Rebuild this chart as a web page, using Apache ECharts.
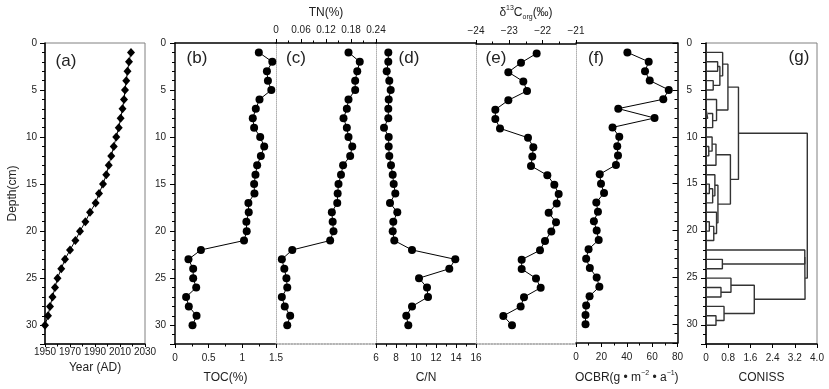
<!DOCTYPE html>
<html><head><meta charset="utf-8">
<script src="https://cdn.jsdelivr.net/npm/echarts@6/dist/echarts.min.js"></script>
<style>html,body{margin:0;padding:0;background:#fff}#c{width:829px;height:389px}</style>
</head><body><div id="c"></div>
<script>
// ---------------- DATA ----------------
const depths = [1,2,3,4,5,6,7,8,9,10,11,12,13,14,15,16,17,18,19,20,21,22,23,24,25,26,27,28,29,30];
const years = [2018.8,2017.2,2016,2015,2014,2013.2,2012,2010.5,2009,2007,2005,2003,2001,1999,1996.4,1993.2,1990.5,1986,1982.3,1978,1974.3,1970,1966,1963,1960,1958,1956,1954,1952.4,1950];
const toc = [1.245,1.445,1.365,1.38,1.43,1.255,1.2,1.155,1.175,1.265,1.325,1.275,1.22,1.195,1.175,1.18,1.09,1.095,1.06,1.065,1.025,0.385,0.2,0.27,0.27,0.315,0.165,0.205,0.32,0.26];
const tn = [0.174,0.201,0.195,0.19,0.19,0.174,0.170,0.162,0.17,0.174,0.183,0.178,0.161,0.156,0.150,0.148,0.147,0.134,0.136,0.138,0.130,0.039,0.014,0.020,0.025,0.027,0.014,0.021,0.034,0.027];
const cn = [7.23,7.23,7.07,7.33,7.47,7.27,7.23,7.23,6.8,7.27,7.27,7.33,7.5,7.67,7.77,7.93,7.4,8.13,7.73,7.67,7.83,9.6,13.93,13.33,10.3,11.1,11.2,9.6,9.03,9.23];
const d13c = [-22.18,-22.65,-23.03,-22.58,-22.47,-23.03,-23.42,-23.42,-23.28,-22.44,-22.28,-22.31,-22.35,-21.86,-21.65,-21.52,-21.58,-21.82,-21.6,-21.74,-21.93,-22.08,-22.63,-22.63,-22.2,-22.06,-22.56,-22.66,-23.18,-22.92];
const ocbr = [40.5,57.3,54.4,58.1,73.1,68.8,33.3,61.9,28.8,34.1,32.5,33.1,31.5,18.7,19.7,22.1,16,17.3,14.1,16.3,17.9,9.9,8,10.9,16.3,18.4,10.7,8,7.5,7.5];
// CONISS merges: [id, childA, childB, height]; numeric child = leaf depth
const conissMerges = [
 ['m1',2,3,0.42],['m2',4,5,0.26],['m3','m1','m2',0.5],['m4',1,'m3',0.6],
 ['m5',7,8,0.06],['m6','m5',9,0.24],['m7',6,'m6',0.38],['m8','m4','m7',0.79],
 ['m9',11,12,0.1],['m10',10,'m9',0.22],['m11','m10',13,0.36],
 ['m12',15,16,0.12],['m13','m12',17,0.24],['m14',14,'m13',0.32],
 ['m15',19,20,0.12],['m16','m15',21,0.28],['m17',18,'m16',0.38],
 ['m18','m14','m17',0.43],['m19','m11','m18',0.88],['m20','m8','m19',1.17],
 ['m21',23,24,0.59],['m22',26,27,0.54],['m23',25,'m22',0.9],
 ['m24',29,30,0.36],['m25',28,'m24',0.65],['m26','m23','m25',1.74],
 ['m27',22,'m21',3.56],['m28','m27','m26',3.57],['m29','m20','m28',3.65]
];
const yearTicks = {min:1950,max:2030,interval:20};
const tocTicks = {min:0,max:1.5,interval:0.5};
const tnTicks = {min:0,max:0.24,interval:0.06};
const cnTicks = {min:6,max:16,interval:2};
const d13cTicks = {min:-24,max:-21,interval:1};
const ocbrTicks = {min:0,max:80,interval:20};
const conissTicks = {min:0,max:4,interval:0.8};
const depthRange = {min:0,max:32,major:5,minor:1};

// ---------------- LAYOUT ----------------
const FONT = '"Liberation Sans", Arial, Helvetica, sans-serif';
const TOP = 43, H = 301;
const grids = [
 {left:45, top:TOP, width:100, height:H, show:true, borderColor:'#808080', borderWidth:1},
 {left:175, top:TOP, width:101, height:H},
 {left:276, top:TOP, width:100, height:H},
 {left:376, top:TOP, width:100, height:H},
 {left:476, top:TOP, width:100, height:H},
 {left:576, top:TOP, width:101.5, height:H},
 {left:706, top:TOP, width:111, height:H, show:true, borderColor:'#808080', borderWidth:1}
];
const xAxes = [], yAxes = [], series = [];
const addX = o => (xAxes.push(o), xAxes.length-1);
const addY = o => (yAxes.push(o), yAxes.length-1);
const nameStyle = {fontSize:12, color:'#222', fontFamily:FONT};
const labStyle = {fontSize:10, color:'#222', fontFamily:FONT};

function depthAxis(g, pos, o) {
  const base = {type:'value', gridIndex:g, position:pos, inverse:true, min:depthRange.min, max:depthRange.max, splitLine:{show:false}};
  const maj = addY(Object.assign({}, base, {interval:depthRange.major,
    axisLine:{show:true,onZero:false,lineStyle:{color:'#000',width:1.5}},
    axisTick:{show:true,inside:!!o.inside,length:5,lineStyle:{color:'#000',width:1}},
    axisLabel:Object.assign({show:!!o.labels,margin:o.margin||8,formatter:v=>(v%5===0?String(v):'')}, labStyle),
    name:o.name||'', nameLocation:'middle', nameGap:o.nameGap||26, nameTextStyle:nameStyle}));
  addY(Object.assign({}, base, {interval:depthRange.minor,
    axisLine:{show:false,onZero:false},
    axisTick:{show:true,inside:!!o.inside,length:3,lineStyle:{color:'#000',width:1}},
    axisLabel:{show:false}}));
  return maj;
}
function sepAxis(g) {
  return addY({type:'value', gridIndex:g, position:'left', inverse:true, min:depthRange.min, max:depthRange.max,
    axisLine:{show:true,onZero:false,lineStyle:{color:'#b0b0b0',width:1,type:'dotted'}},
    axisTick:{show:false}, axisLabel:{show:false}, splitLine:{show:false}});
}
function xAxis(g, pos, t, o) {
  return addX({type:'value', gridIndex:g, position:pos, min:t.min, max:t.max, interval:t.interval,
    axisLine:{show:true,onZero:false,lineStyle:o.lineStyle||{color:'#000',width:1.5}},
    axisTick:{show:!!o.ticks,length:o.tickLen||4,lineStyle:{color:'#000',width:1}},
    minorTick:{show:!!o.minor,splitNumber:o.minor||2,length:2.5,lineStyle:{color:'#000',width:1}},
    axisLabel:Object.assign({show:!!o.labels,margin:o.margin==null?8:o.margin,formatter:o.fmt}, labStyle),
    splitLine:{show:false}, minorSplitLine:{show:false},
    name:o.name||'', nameLocation:'middle', nameGap:o.nameGap||28, nameTextStyle:o.nameStyle||nameStyle});
}
const grayLine = {color:'#9a9a9a',width:1.5,type:'dotted'};
const minus = v => (v<0?'\u2212':'')+Math.abs(v);

function dataSeries(xi, yi, xs, sym, size) {
  series.push({type:'line', xAxisIndex:xi, yAxisIndex:yi, data:depths.map((d,i)=>[xs[i],d]),
    symbol:sym, symbolSize:size, showSymbol:true, itemStyle:{color:'#000'}, lineStyle:{color:'#000',width:1},
    animation:false, silent:true, clip:false, z:3});
}

// (a)
let y = depthAxis(0,'left',{labels:true,margin:8,name:'Depth(cm)',nameGap:26});
let x = xAxis(0,'bottom',yearTicks,{ticks:true,tickLen:3,minor:2,labels:true,margin:3,fmt:v=>String(v),name:'Year (AD)',nameGap:18});
dataSeries(x,y,years,'diamond',[8,9]);
// (b)
y = depthAxis(1,'left',{labels:true,margin:9});
x = xAxis(1,'bottom',tocTicks,{ticks:true,minor:2,labels:true,margin:9,name:'TOC(%)'});
xAxis(1,'top',tocTicks,{});
dataSeries(x,y,toc,'circle',8);
// (c)
y = sepAxis(2);
x = xAxis(2,'top',tnTicks,{ticks:true,minor:2,labels:true,margin:8,name:'TN(%)',nameGap:24});
xAxis(2,'bottom',tnTicks,{lineStyle:grayLine});
dataSeries(x,y,tn,'circle',8);
// (d)
y = sepAxis(3);
x = xAxis(3,'bottom',cnTicks,{ticks:true,minor:2,labels:true,margin:9,name:'C/N'});
xAxis(3,'top',cnTicks,{});
dataSeries(x,y,cn,'circle',8);
// (e)
y = sepAxis(4);
x = xAxis(4,'top',d13cTicks,{ticks:true,minor:2,labels:true,margin:8,fmt:minus,
  name:'{a|δ}{s|13}{a|C}{b|org}{a|(‰)}',nameGap:23,
  nameStyle:{fontSize:12,color:'#222',fontFamily:FONT,rich:{
    a:{fontSize:12,lineHeight:16,color:'#222',fontFamily:FONT,verticalAlign:'middle'},
    s:{fontSize:7,lineHeight:8,color:'#222',fontFamily:FONT,verticalAlign:'top'},
    b:{fontSize:7,lineHeight:8,color:'#222',fontFamily:FONT,verticalAlign:'bottom'}}}});
xAxis(4,'bottom',d13cTicks,{lineStyle:grayLine});
dataSeries(x,y,d13c,'circle',8);
// (f)
y = sepAxis(5);
depthAxis(5,'right',{labels:true,inside:true,margin:9});
x = xAxis(5,'bottom',ocbrTicks,{ticks:true,minor:2,labels:true,margin:9,
  name:'{a|OCBR(g • m}{s|−2}{a| • a}{s|−1}{a|)}',nameGap:27,
  nameStyle:{fontSize:12,color:'#222',fontFamily:FONT,rich:{
    a:{fontSize:12,lineHeight:16,color:'#222',fontFamily:FONT,verticalAlign:'middle'},
    s:{fontSize:7,lineHeight:8,color:'#222',fontFamily:FONT,verticalAlign:'top'}}}});
xAxis(5,'top',ocbrTicks,{});
dataSeries(x,y,ocbr,'circle',8);
// (g)
y = depthAxis(6,'left',{labels:false});
x = xAxis(6,'bottom',conissTicks,{ticks:true,labels:true,margin:9,name:'CONISS',fmt:v=>(v===0?'0':v.toFixed(1))});
const nodePos = {};
const posOf = c => (typeof c === 'number' ? {y:c,h:0} : nodePos[c]);
conissMerges.forEach(([id,a,b,h]) => {
  const A = posOf(a), B = posOf(b);
  nodePos[id] = {y:(A.y+B.y)/2, h:h};
  series.push({type:'line', xAxisIndex:x, yAxisIndex:y, data:[[A.h,A.y],[h,A.y],[h,B.y],[B.h,B.y]],
    symbol:'none', lineStyle:{color:'#333',width:1.4}, animation:false, silent:true, clip:false});
});

const panelLabels = [['(a)',66,61],['(b)',197,58],['(c)',296,58],['(d)',409,58],['(e)',496,58],['(f)',596,58],['(g)',799,57]];
const graphic = panelLabels.map(([t,px,py]) => ({type:'text', x:px, y:py, silent:true,
  style:{text:t, fontSize:17, fontFamily:FONT, fill:'#222', textAlign:'center', textVerticalAlign:'middle', align:'center', verticalAlign:'middle'}}));

const chart = echarts.init(document.getElementById('c'), null, {renderer:'canvas'});
chart.setOption({backgroundColor:'#fff', animation:false, grid:grids, xAxis:xAxes, yAxis:yAxes, series:series, graphic:graphic});
</script></body></html>
